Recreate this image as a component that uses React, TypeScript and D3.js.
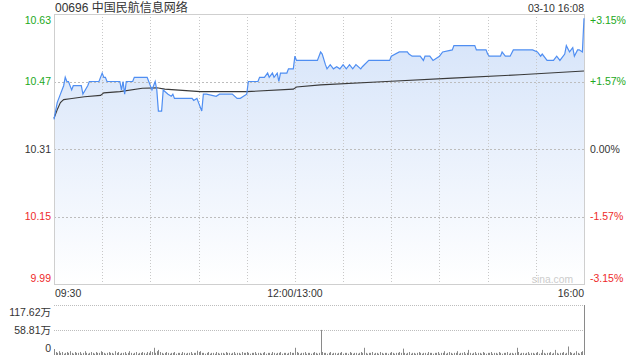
import React from 'react';
import * as d3 from 'd3';

// ---- data ----
const stockTitle = "00696 中国民航信息网络";
const stampText = "03-10 16:08";
const prevClose = 10.31;
const priceTickValues = [10.63, 10.47, 10.31, 10.15, 9.99];
const pctTickLabels = ["+3.15%", "+1.57%", "0.00%", "-1.57%", "-3.15%"];
const timeLabels = ["09:30", "12:00/13:00", "16:00"];
const timeLabelMinutes = [0, 150, 330];
const volTickValues = [117.62, 58.81, 0];
const volTickLabels = ["117.62万", "58.81万", "0"];

// trading minutes since 09:30 (lunch break skipped)
const priceMinutes = [0,2,4,6,7,8,9,11,12,17,18,21,22,28,30,31,32,33,41,42,43,44,45,49,50,58,59,61,62,63,64,65,67,68,71,73,74,75,86,87,89,90,92,93,95,101,103,111,114,116,118,120,121,127,128,131,133,134,136,137,139,140,141,145,146,149,150,151,164,166,167,169,170,172,174,176,178,180,182,184,186,188,191,192,196,209,210,215,220,221,223,228,230,231,234,236,240,242,248,249,262,263,269,270,271,278,279,281,284,286,298,301,303,304,307,311,313,315,318,319,321,323,324,326,327,329,330];
const prices = [10.38,10.42,10.44,10.46,10.48,10.47,10.47,10.45,10.46,10.46,10.44,10.46,10.47,10.47,10.49,10.48,10.48,10.47,10.47,10.45,10.47,10.44,10.47,10.47,10.48,10.48,10.47,10.45,10.46,10.47,10.45,10.40,10.40,10.45,10.44,10.435,10.44,10.43,10.43,10.425,10.43,10.42,10.40,10.44,10.44,10.435,10.44,10.44,10.43,10.43,10.435,10.44,10.47,10.47,10.48,10.48,10.49,10.48,10.49,10.48,10.49,10.47,10.49,10.49,10.50,10.50,10.53,10.52,10.52,10.54,10.535,10.51,10.50,10.51,10.50,10.505,10.50,10.51,10.50,10.51,10.50,10.51,10.50,10.505,10.52,10.52,10.53,10.54,10.54,10.535,10.53,10.53,10.52,10.53,10.53,10.52,10.53,10.54,10.545,10.555,10.555,10.545,10.545,10.535,10.53,10.53,10.54,10.53,10.53,10.545,10.545,10.54,10.53,10.535,10.52,10.52,10.53,10.52,10.535,10.555,10.54,10.55,10.53,10.545,10.545,10.54,10.62];

const avgMinutes = [0,2,4,6,10,19,29,31,41,55,64,69,91,120,149,151,166,207,248,290,330];
const avgPrices = [10.383,10.403,10.42,10.427,10.429,10.434,10.437,10.443,10.446,10.454,10.455,10.452,10.446,10.446,10.452,10.457,10.462,10.470,10.478,10.486,10.495];

// volume per trading minute (万)
const volumes = [
  14,7,5,9,5,7,3,5,7,5,9,5,3,7,5,5,7,3,5,9,5,3,5,7,5,3,7,5,5,9,
  7,5,3,5,7,5,5,3,9,5,7,3,5,5,7,3,5,9,5,3,5,7,3,5,5,7,5,3,7,5,
  9,7,17,5,9,12,7,5,3,5,7,5,3,5,5,7,3,5,5,3,7,5,3,5,5,7,3,5,5,10,
  7,9,5,5,3,5,7,3,5,5,3,7,5,3,5,5,3,7,5,5,3,5,7,3,5,5,3,7,5,5,
  7,5,3,5,5,7,3,5,5,3,5,7,3,5,5,3,7,5,3,5,5,7,3,5,5,3,5,7,5,5,
  17,7,5,3,5,5,7,3,5,5,3,5,7,5,3,5,59,7,5,5,3,5,7,3,5,5,3,5,5,7,
  3,5,5,3,7,5,3,5,5,3,5,7,5,17,5,3,5,5,7,3,5,5,3,7,5,3,5,5,3,5,
  7,5,3,5,5,7,5,15,5,3,5,7,3,5,5,3,5,7,5,3,5,5,3,7,5,5,3,5,5,7,
  3,5,5,9,3,5,7,5,3,5,5,9,3,5,5,7,3,5,12,5,3,5,7,3,5,5,3,7,5,3,
  5,5,7,3,5,5,3,7,5,3,5,5,7,3,5,5,3,5,17,7,3,5,5,3,5,7,3,5,5,3,
  5,7,3,5,12,5,3,5,5,7,3,5,12,5,3,5,5,7,3,5,20,7,5,3,5,9,5,3,7,9,117.62
];

const W = 640, H = 360;
const L = 54, R = 584, T = 14, B = 284, VT = 305, VB = 355;
const FONT = '"Liberation Sans", Arial, "Noto Sans CJK SC", sans-serif';
const GREEN = '#21a821';
const RED = '#ee2a2a';
const DARK = '#333';

export default function App() {
  const x = d3.scaleLinear().domain([0, 330]).range([L, R]);
  const y = d3.scaleLinear().domain([9.99, 10.63]).range([B, T]);
  const yv = d3.scaleLinear().domain([0, 117.62]).range([VB, VT]);

  const pts = priceMinutes.map((m, i) => [m, prices[i]] as [number, number]);
  const avgPts = avgMinutes.map((m, i) => [m, avgPrices[i]] as [number, number]);
  const line = d3.line<[number, number]>().x(d => x(d[0])).y(d => y(d[1]));
  const area = d3.area<[number, number]>().x(d => x(d[0])).y0(B).y1(d => y(d[1]));

  const colorFor = (v: number) => (v > prevClose + 1e-9 ? GREEN : v < prevClose - 1e-9 ? RED : DARK);
  const vGrid = d3.range(30, 330, 30);
  const n = priceTickValues.length;

  return (
    <svg width={W} height={H} style={{ position: 'absolute', left: 0, top: 0, background: '#fff' }} fontFamily={FONT}>
      <defs>
        <linearGradient id="fillg" gradientUnits="userSpaceOnUse" x1="0" y1={T} x2="0" y2={B}>
          <stop offset="0" stopColor="#d3e2f9" />
          <stop offset="1" stopColor="#ffffff" />
        </linearGradient>
      </defs>
      <text x={L + 1} y={11.5} fontSize={12} fill={DARK}>{stockTitle}</text>
      <text x={R} y={11.5} fontSize={10.5} fill={DARK} textAnchor="end">{stampText}</text>

      <path d={area(pts) || ''} fill="url(#fillg)" />

      {vGrid.map(m => (
        <line key={m} x1={Math.round(x(m)) + 0.5} x2={Math.round(x(m)) + 0.5} y1={T} y2={B} stroke="#c8c8c8" strokeDasharray="1,2" />
      ))}
      {priceTickValues.slice(1, n - 1).map(v => (
        <line key={v} x1={L} x2={R} y1={Math.round(y(v)) + 0.5} y2={Math.round(y(v)) + 0.5} stroke="#bdbdbd" strokeDasharray="2,2" />
      ))}
      <rect x={L + 0.5} y={T + 0.5} width={R - L} height={B - T} fill="none" stroke="#cfcfcf" />

      <path d={line(avgPts) || ''} fill="none" stroke="#3a3a3a" strokeWidth={1.1} />
      <path d={line(pts) || ''} fill="none" stroke="#4f8ef2" strokeWidth={1.2} />

      <text x={573} y={283} fontSize={10.3} fill="#cccccc" textAnchor="end">sina.com</text>

      {priceTickValues.map((v, i) => {
        const gy = y(v);
        const by = i === 0 ? gy + 10 : i === n - 1 ? gy - 2.5 : gy + 3.5;
        return (
          <g key={v}>
            <text x={51} y={by} fontSize={10.5} fill={colorFor(v)} textAnchor="end">{v.toFixed(2)}</text>
            <text x={590} y={by} fontSize={10.5} fill={colorFor(v)}>{pctTickLabels[i]}</text>
          </g>
        );
      })}

      {timeLabels.map((t, i) => (
        <text key={t} x={i === 0 ? x(timeLabelMinutes[i]) + 1 : x(timeLabelMinutes[i])} y={297} fontSize={10.5} fill={DARK}
          textAnchor={i === 0 ? 'start' : i === timeLabels.length - 1 ? 'end' : 'middle'}>{t}</text>
      ))}

      {volTickValues.slice(0, 2).map(v => (
        <line key={v} x1={L} x2={R} y1={Math.round(yv(v)) + 0.5} y2={Math.round(yv(v)) + 0.5} stroke="#bdbdbd" strokeDasharray="1,1" />
      ))}
      {volTickValues.map((v, i) => {
        const gy = yv(v);
        const by = i === 0 ? gy + 11 : i === volTickValues.length - 1 ? gy - 3.3 : gy + 3.5;
        return <text key={v} x={51} y={by} fontSize={10.5} fill={DARK} textAnchor="end">{volTickLabels[i]}</text>;
      })}
      {volumes.map((v, i) => {
        const xx = Math.min(Math.round(x(i)) + 0.5, R + 0.5);
        return <line key={i} x1={xx} x2={xx} y1={VB} y2={yv(v)} stroke="#8a8a8a" strokeWidth={1} />;
      })}
    </svg>
  );
}
